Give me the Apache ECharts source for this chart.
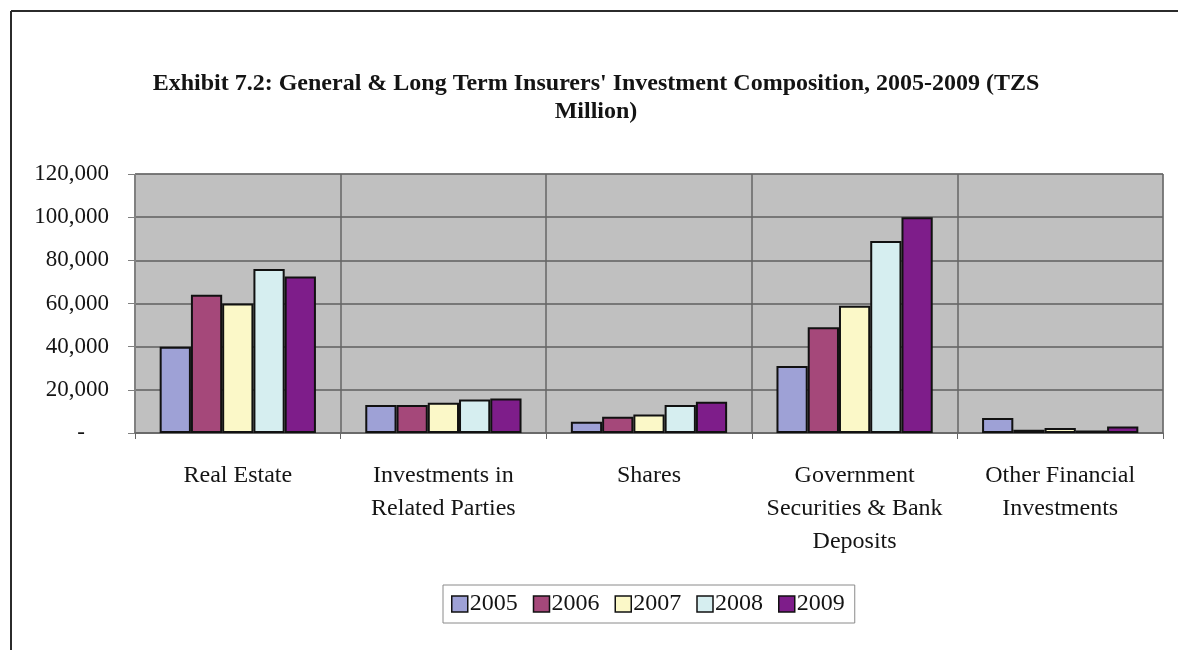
<!DOCTYPE html>
<html>
<head>
<meta charset="utf-8">
<script src="https://cdn.jsdelivr.net/npm/echarts@6/dist/echarts.min.js"></script>
<style>
  html, body { margin: 0; padding: 0; background: #fff; }
  #chart { width: 1178px; height: 650px; }
</style>
</head>
<body>
<div id="chart"></div>
<script>
// Investment categories (x axis)
const categories = [
  'Real Estate',
  'Investments in\nRelated Parties',
  'Shares',
  'Government\nSecurities & Bank\nDeposits',
  'Other Financial\nInvestments'
];

// Years (one series per year), TZS million
const years = ['2005', '2006', '2007', '2008', '2009'];
const values2005 = [40000, 13000, 5200, 31000, 7000];
const values2006 = [64000, 13000, 7500, 49000, 1500];
const values2007 = [60000, 14000, 8600, 59000, 2300];
const values2008 = [76000, 15500, 13000, 89000, 1200];
const values2009 = [72500, 16000, 14500, 100000, 3000];
const seriesValues = [values2005, values2006, values2007, values2008, values2009];

const yTicks = [0, 20000, 40000, 60000, 80000, 100000, 120000];

const colors = ['#9ea1d6', '#a5487a', '#fbf8c8', '#d6eef0', '#7e1d8a'];
const serif = '"Liberation Serif", "DejaVu Serif", serif';
const ink = '#141414';

const chart = echarts.init(document.getElementById('chart'));

chart.setOption({
  animation: false,
  backgroundColor: '#ffffff',
  title: {
    text: "Exhibit 7.2: General & Long Term Insurers' Investment Composition, 2005-2009 (TZS\nMillion)",
    left: 591,
    top: 65,
    textAlign: 'center',
    textStyle: {
      fontFamily: serif,
      fontWeight: 'bold',
      fontSize: 24,
      lineHeight: 28,
      color: ink,
      align: 'center'
    }
  },
  graphic: [
    { type: 'line', shape: { x1: 11, y1: 11, x2: 11, y2: 650 }, style: { stroke: '#2b2b2b', lineWidth: 2 } },
    { type: 'line', shape: { x1: 11, y1: 11, x2: 1178, y2: 11 }, style: { stroke: '#2b2b2b', lineWidth: 2 } }
  ],
  legend: {
    data: years,
    icon: 'rect',
    left: 443,
    top: 585,
    itemWidth: 16,
    itemHeight: 16,
    itemGap: 15,
    padding: [7, 10, 7, 8],
    borderColor: '#8a8a8a',
    borderWidth: 1,
    textStyle: {
      fontFamily: serif,
      fontSize: 24,
      color: ink,
      padding: [0, 0, 0, -3]
    },
    itemStyle: { borderColor: '#111', borderWidth: 1.5 }
  },
  grid: {
    left: 135,
    right: 15,
    top: 174,
    bottom: 217,
    show: true,
    backgroundColor: '#c0c0c0',
    borderColor: '#a8a8a8',
    borderWidth: 1
  },
  xAxis: {
    type: 'category',
    data: categories,
    boundaryGap: true,
    axisLine: { show: true, lineStyle: { color: '#666', width: 1.5 } },
    axisTick: { show: true, length: 6, lineStyle: { color: '#666' } },
    splitLine: { show: true, lineStyle: { color: '#666', width: 1.5 } },
    axisLabel: {
      interval: 0,
      margin: 26,
      fontFamily: serif,
      fontSize: 24,
      lineHeight: 33,
      color: ink,
      align: 'center'
    }
  },
  yAxis: {
    type: 'value',
    min: 0,
    max: 120000,
    interval: 20000,
    axisLine: { show: true, lineStyle: { color: '#808080' } },
    axisTick: { show: true, length: 7, lineStyle: { color: '#808080' } },
    splitLine: { show: true, lineStyle: { color: '#5f5f5f', width: 1.5 } },
    axisLabel: {
      margin: 26,
      fontFamily: serif,
      fontSize: 23,
      color: ink,
      formatter: function (v) {
        if (yTicks.indexOf(v) < 0) return '';
        if (v === 0) return '{z|-}';
        return v.toLocaleString('en-US');
      },
      rich: {
        z: { fontFamily: serif, fontSize: 23, color: ink, padding: [0, 24, 0, 0] }
      }
    }
  },
  series: years.map(function (y, i) {
    return {
      name: y,
      type: 'bar',
      data: seriesValues[i],
      barGap: '0%',
      barCategoryGap: '24%',
      itemStyle: {
        color: colors[i],
        borderColor: '#111111',
        borderWidth: 2
      }
    };
  })
});
</script>
</body>
</html>
